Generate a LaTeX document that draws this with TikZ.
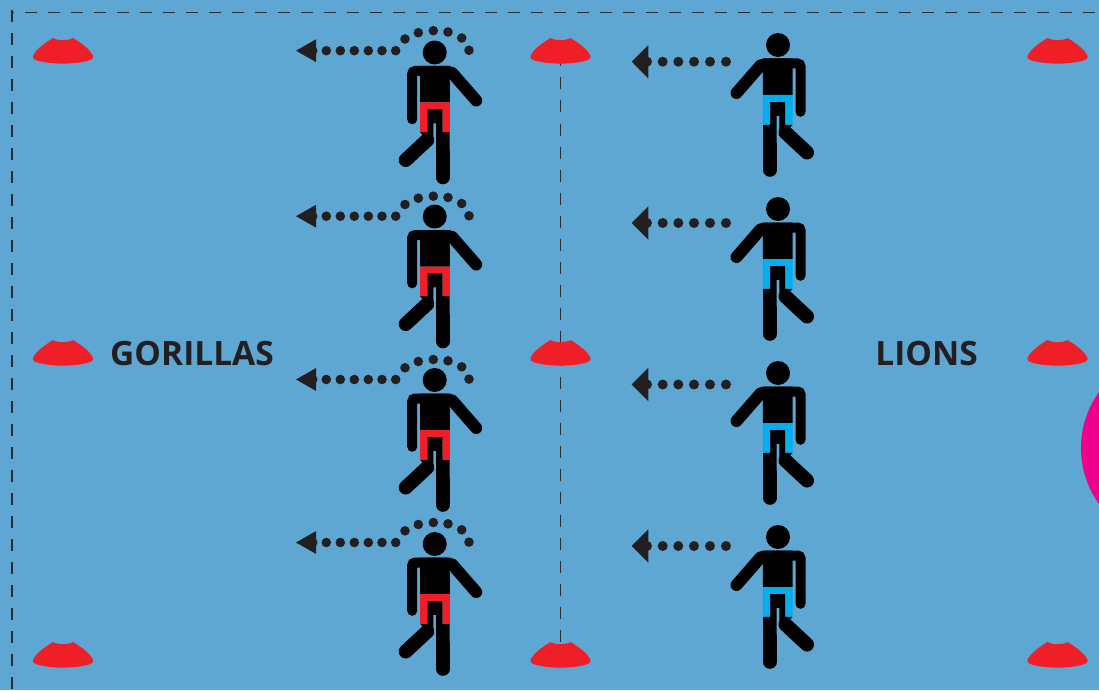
\documentclass[tikz,border=0pt]{standalone}
\usepackage{fontspec}
\setsansfont{Open Sans}
\definecolor{pitch}{RGB}{94,167,211}
\definecolor{conered}{RGB}{240,30,38}
\definecolor{bibblue}{RGB}{0,174,239}
\definecolor{inkdark}{RGB}{35,31,32}
\definecolor{magenta}{RGB}{236,0,140}
\tikzset{
  pitchline/.style={draw=inkdark!90!pitch, line width=1.05pt, dash pattern=on 12pt off 11pt},
  teamlabel/.style={font=\sffamily\bfseries\fontsize{33.5}{33.5}\selectfont, text=inkdark},
  pics/cone/.style={code={
    \fill[conered] (-10,0) .. controls (-6,2.8) and (6,2.8) .. (10,0)
      .. controls (18,5) and (27,11) .. (30,18) .. controls (30.8,20.6) and (28,22) .. (24,23)
      .. controls (10,26.5) and (-10,26.5) .. (-24,23)
      .. controls (-28,22) and (-30.8,20.6) .. (-30,18) .. controls (-27,11) and (-18,5) .. (-10,0) -- cycle;
  }},
  pics/runner/.style={code={
    \fill[black] (0,0) circle (12);
    \draw[black, line width=10pt, line cap=round, rounded corners=3pt]
      (-22.5,66.8) -- (-22.5,18.5) -- (15,18.5);
    \draw[black, line width=12pt, line cap=round] (17.5,20.5) -- (41.5,48);
    \fill[black] (-14.7,13.5) -- (14,13.5) -- (15.1,30) -- (15.1,50) -- (-14.7,50) -- cycle;
    % pelvis and legs
    \fill[black] (-7.4,56) -- (8,56) -- (8,79.5) -- (14.9,79.5) -- (14.9,125) -- (1.3,125) -- (1.3,70.8)
      -- (-1.4,70.8) -- (-1.4,90.8) -- (-3,92.6) -- (-12.3,82.4) -- (-14.7,79.5) -- (-7.4,79.5) -- cycle;
    \draw[black, line width=13.6pt, line cap=round] (8.1,100) -- (8.1,125);
    \draw[black, line width=14pt, line cap=round] (-7.5,87.5) -- (-29,107.5);
    \fill[#1] (-14.7,50) -- (15.1,50) -- (15.1,79.5) -- (8,79.5) -- (8,56.8) -- (-7.4,56.8) -- (-7.4,79.5) -- (-14.7,79.5) -- cycle;
  }},
}
\begin{document}
\begin{tikzpicture}[x=1pt,y=-1pt]
\useasboundingbox (0,0) rectangle (1099,690);
\clip (0,0) rectangle (1099,690);
\fill[pitch] (0,0) rectangle (1099,690);
\fill[magenta] (1177,448) circle (96);
\draw[pitchline, dash phase=10pt] (12,12.5) -- (1099,12.5);
\draw[pitchline] (12,10) -- (12,690);
\draw[pitchline] (560.5,54.5) -- (560.5,650);
% cones
\foreach \x in {63,560.5,1057.5}
  \foreach \y in {38,340,642}
    \pic at (\x,\y) {cone};
% gorillas
\foreach \y in {52.5,216.5,380,544}
  \pic at (434.7,\y) {runner=conered};
\foreach \y in {50.7,216.2,379.5,542.5} {
  \fill[inkdark] (296,\y) -- (316,\y-11.4) -- (316,\y+11.4) -- cycle;
  \foreach \dx/\dy in {-122/0,-108.4/0,-94.4/0,-80.4/0,-66.4/0,-52.7/0,-39/0,
    -29.7/-11.7,-16.4/-18,-1.4/-20,13.3/-18.7,27/-12.7,34.3/-0.4}
    \fill[inkdark] (434.7+\dx,\y+\dy) circle (4.8);
}
% lions
\foreach \y in {45,209,373,537}
  \pic[xscale=-1] at (778,\y) {runner=bibblue};
\foreach \y in {61.7,223,384.5,546} {
  \fill[inkdark] (631.7,\y) -- (648.3,\y-16.7) -- (648.3,\y+16.7) -- cycle;
  \foreach \x in {647,662.7,678.3,694,710,726}
    \fill[inkdark] (\x,\y) circle (5);
}
\node[teamlabel] (gorillas) at (192,353.5) {GORILLAS};
\node[teamlabel] (lions) at (926.5,353.5) {LIONS};
\end{tikzpicture}
\end{document}
